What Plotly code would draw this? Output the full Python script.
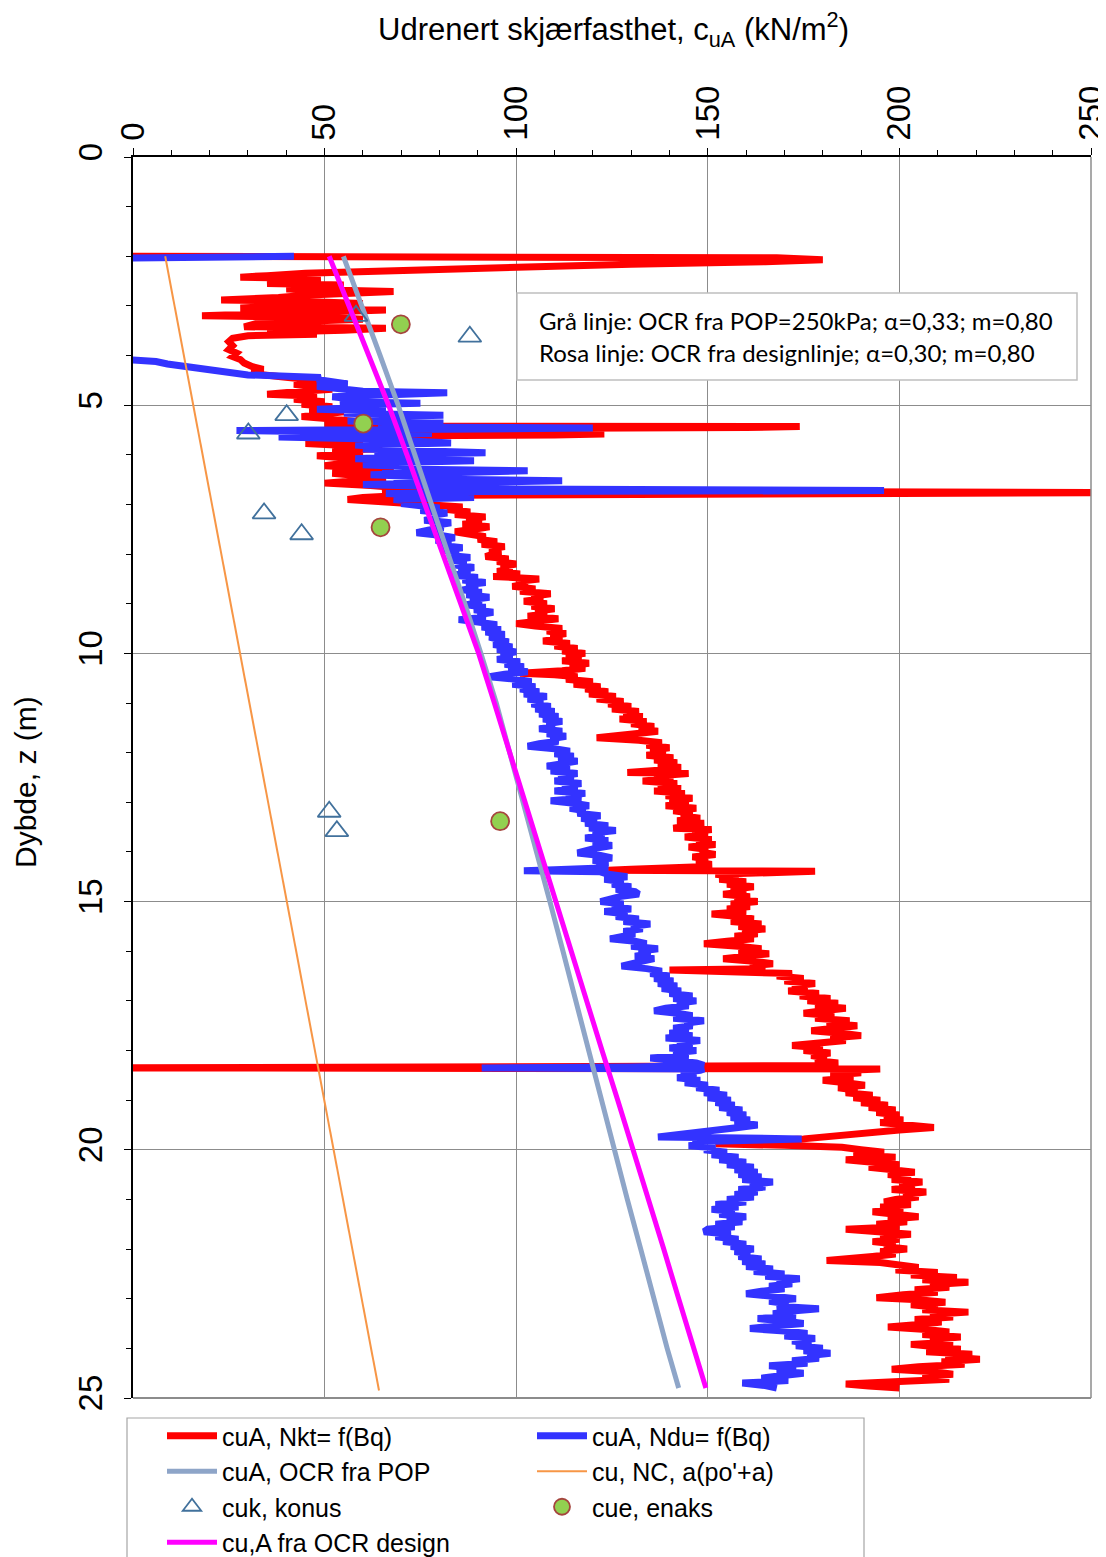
import plotly.graph_objects as go

# ---------------- data ----------------
# (depth m, cu kPa) pairs
red_profile = [
    (2.00, -3), (2.01, 60), (2.03, 168), (2.07, 180), (2.11, 165), (2.16, 130), (2.22, 95), (2.27, 75), (2.30, 52),
    (2.34, 45), (2.39, 35), (2.42, 28), (2.45, 49), (2.50, 42), (2.55, 35), (2.58, 55), (2.62, 48), (2.66, 40),
    (2.71, 68), (2.74, 50), (2.78, 46), (2.83, 38), (2.88, 23), (2.91, 45), (2.95, 60), (3.00, 40), (3.04, 28),
    (3.08, 66), (3.12, 48), (3.16, 30), (3.20, 18), (3.23, 50), (3.27, 60), (3.31, 45), (3.36, 32), (3.42, 29),
    (3.45, 66), (3.49, 55), (3.53, 35), (3.57, 48), (3.60, 30),
    (3.65, 26), (3.72, 25), (3.80, 26), (3.88, 25), (3.95, 27), (4.02, 26), (4.08, 28), (4.15, 29), (4.22, 31),
    (4.28, 34), (4.33, 31), (4.38, 33), (4.42, 38),
    (4.46, 45), (4.52, 50), (4.58, 42), (4.63, 47), (4.68, 52), (4.72, 44), (4.78, 35), (4.82, 48), (4.88, 42),
    (4.93, 50), (4.98, 44), (5.03, 52),
    (5.08, 46), (5.13, 55), (5.18, 48), (5.23, 44), (5.28, 52), (5.33, 58), (5.38, 50), (5.42, 60), (5.43, 174),
    (5.45, 160), (5.48, 70), (5.52, 56), (5.56, 62), (5.58, 123), (5.60, 110), (5.62, 60),
    (5.67, 52), (5.72, 60), (5.77, 45), (5.82, 58), (5.87, 65), (5.92, 52), (5.97, 60), (6.02, 48), (6.07, 56),
    (6.12, 64), (6.17, 55), (6.22, 50), (6.27, 62), (6.32, 68), (6.37, 52), (6.42, 60), (6.47, 66), (6.52, 58),
    (6.57, 50), (6.62, 62), (6.67, 70), (6.72, 65), (6.74, 190), (6.76, 265), (6.78, 200), (6.82, 70), (6.86, 60),
    (6.90, 56), (6.95, 66),
    (7.00, 80), (7.05, 86), (7.10, 82), (7.15, 88), (7.20, 84), (7.25, 92), (7.30, 87), (7.35, 91), (7.40, 86),
    (7.45, 93), (7.50, 89), (7.55, 84), (7.60, 88), (7.65, 92), (7.70, 90), (7.75, 95), (7.80, 91), (7.85, 97),
    (7.90, 93), (7.95, 96), (8.00, 94), (8.05, 92), (8.10, 98), (8.15, 95), (8.20, 100), (8.25, 96), (8.30, 99),
    (8.35, 95), (8.40, 101), (8.45, 94), (8.50, 106), (8.55, 100), (8.60, 103), (8.65, 99), (8.70, 105),
    (8.75, 101), (8.80, 109), (8.85, 104), (8.90, 107), (8.95, 102), (9.00, 108), (9.05, 104), (9.10, 110),
    (9.15, 105), (9.20, 108), (9.25, 103), (9.30, 111), (9.35, 106), (9.40, 100), (9.45, 105), (9.50, 112),
    (9.55, 108), (9.60, 113), (9.65, 109), (9.70, 112), (9.75, 107), (9.80, 114), (9.85, 110), (9.90, 116),
    (9.95, 112), (10.00, 118), (10.05, 113), (10.10, 117), (10.15, 112), (10.20, 119), (10.25, 114), (10.30, 118),
    (10.35, 112), (10.40, 101), (10.43, 110), (10.47, 116), (10.52, 113), (10.57, 120), (10.62, 115), (10.67, 122),
    (10.72, 118), (10.77, 124), (10.82, 119), (10.87, 126), (10.92, 121), (10.97, 128), (11.02, 124), (11.07, 130),
    (11.12, 125), (11.17, 132), (11.22, 128), (11.27, 133), (11.32, 127), (11.37, 134), (11.42, 130), (11.47, 136),
    (11.52, 132), (11.57, 137), (11.62, 131), (11.70, 121), (11.75, 132), (11.80, 138), (11.85, 134), (11.90, 140),
    (11.95, 135), (12.00, 139), (12.05, 134), (12.10, 141), (12.15, 136), (12.20, 142), (12.25, 137), (12.30, 143),
    (12.35, 138), (12.40, 129), (12.42, 145), (12.47, 136), (12.52, 141), (12.57, 133), (12.62, 142), (12.67, 137),
    (12.72, 143), (12.77, 136), (12.82, 144), (12.87, 139), (12.92, 146), (12.97, 140), (13.02, 145), (13.07, 139),
    (13.12, 147), (13.17, 141), (13.22, 146), (13.27, 143), (13.32, 148), (13.37, 142), (13.42, 149), (13.47, 145),
    (13.52, 141), (13.55, 151), (13.60, 146), (13.65, 150), (13.70, 144), (13.75, 151), (13.80, 147), (13.85, 152),
    (13.90, 145), (13.95, 150), (14.00, 148), (14.05, 152), (14.10, 146), (14.15, 150), (14.20, 147), (14.25, 151),
    (14.30, 148), (14.35, 130), (14.37, 124), (14.39, 178), (14.41, 160), (14.45, 152),
    (14.50, 158), (14.55, 153), (14.60, 160), (14.65, 155), (14.70, 162), (14.75, 156), (14.80, 160), (14.85, 154),
    (14.90, 161), (14.95, 157), (15.00, 163), (15.05, 156), (15.10, 161), (15.15, 155), (15.20, 160), (15.25, 151),
    (15.30, 158), (15.35, 162), (15.40, 156), (15.45, 164), (15.50, 158), (15.55, 165), (15.60, 159), (15.65, 163),
    (15.70, 157), (15.75, 162), (15.80, 155), (15.85, 149), (15.90, 158), (15.95, 164), (16.00, 158), (16.05, 166),
    (16.10, 160), (16.15, 154), (16.20, 162), (16.25, 167), (16.30, 161), (16.35, 165), (16.38, 140), (16.41, 165),
    (16.45, 172),
    (16.50, 168), (16.55, 175), (16.60, 170), (16.65, 178), (16.70, 172), (16.75, 176), (16.80, 171), (16.85, 179),
    (16.90, 174), (16.95, 182), (17.00, 176), (17.05, 184), (17.10, 178), (17.15, 186), (17.20, 180), (17.25, 175),
    (17.30, 183), (17.35, 178), (17.40, 187), (17.45, 181), (17.50, 189), (17.55, 183), (17.60, 177), (17.65, 185),
    (17.70, 190), (17.75, 182), (17.80, 186), (17.85, 179), (17.90, 172), (17.95, 180), (18.00, 175), (18.05, 182),
    (18.10, 177), (18.15, 181), (18.20, 178), (18.25, 184), (18.30, 180), (18.32, 120), (18.34, -5), (18.35, -5),
    (18.37, 195), (18.40, 185),
    (18.45, 190), (18.50, 182), (18.55, 188), (18.60, 180), (18.65, 186), (18.70, 191), (18.75, 184), (18.80, 189),
    (18.85, 186), (18.90, 193), (18.95, 188), (19.00, 195), (19.05, 190), (19.10, 197), (19.15, 192), (19.20, 199),
    (19.25, 194), (19.30, 200), (19.35, 196), (19.40, 201), (19.45, 195), (19.50, 203), (19.55, 209), (19.60, 200),
    (19.65, 193), (19.72, 185), (19.78, 175), (19.84, 158), (19.88, 152), (19.91, 170), (19.95, 185),
    (20.00, 190), (20.05, 196), (20.10, 188), (20.15, 199), (20.20, 186), (20.25, 195), (20.30, 200), (20.35, 192),
    (20.40, 198), (20.45, 204), (20.50, 197), (20.55, 203), (20.60, 198), (20.65, 206), (20.70, 200), (20.75, 204),
    (20.80, 198), (20.85, 207), (20.90, 201), (20.95, 205), (21.00, 199), (21.05, 196), (21.10, 203), (21.15, 195),
    (21.20, 201), (21.25, 193), (21.30, 199), (21.35, 205), (21.40, 197), (21.45, 202), (21.50, 194), (21.55, 200),
    (21.60, 186), (21.65, 197), (21.70, 203), (21.75, 195), (21.80, 200), (21.85, 193), (21.90, 199), (21.95, 196),
    (22.00, 202), (22.05, 195), (22.10, 199), (22.15, 193), (22.20, 182), (22.23, 181), (22.27, 195), (22.32, 201),
    (22.37, 205), (22.42, 199), (22.47, 210), (22.52, 203), (22.57, 215), (22.62, 206), (22.67, 218), (22.72, 208),
    (22.77, 213), (22.82, 204), (22.87, 210), (22.92, 201), (22.98, 194), (23.02, 205), (23.07, 212), (23.12, 203),
    (23.17, 210), (23.22, 206), (23.27, 218), (23.32, 208), (23.37, 214), (23.42, 204), (23.47, 211), (23.52, 205),
    (23.57, 197), (23.62, 207), (23.67, 213), (23.72, 206), (23.77, 216), (23.82, 208), (23.87, 214), (23.92, 203),
    (23.97, 210), (24.02, 216), (24.07, 207), (24.12, 219), (24.17, 212), (24.22, 221), (24.27, 211), (24.32, 217),
    (24.37, 205), (24.42, 198), (24.47, 209), (24.52, 214), (24.57, 206), (24.62, 213), (24.67, 200), (24.72, 186),
    (24.76, 192), (24.80, 200),
]

blue_profile = [
    (2.00, 42), (2.02, 20), (2.04, -10), (4.04, -10), (4.08, 0), (4.12, 6), (4.17, 9), (4.25, 17), (4.32, 24),
    (4.39, 30), (4.42, 42), (4.44, 49),
    (4.48, 48), (4.53, 52), (4.57, 56), (4.62, 48), (4.67, 55), (4.72, 60), (4.75, 82), (4.78, 62), (4.83, 52),
    (4.88, 58), (4.93, 54), (4.96, 75), (4.99, 58),
    (5.04, 62), (5.08, 48), (5.12, 66), (5.16, 55), (5.20, 81), (5.24, 60), (5.28, 70), (5.32, 56), (5.36, 81),
    (5.40, 64), (5.44, 70), (5.46, 120), (5.48, 90), (5.51, 27), (5.54, 45), (5.57, 78), (5.60, 55), (5.64, 38),
    (5.68, 62), (5.72, 70), (5.76, 83), (5.80, 58), (5.84, 66), (5.88, 60), (5.92, 75), (5.96, 92), (6.00, 63),
    (6.04, 70), (6.08, 58), (6.12, 89), (6.16, 66), (6.20, 60), (6.24, 72), (6.28, 65), (6.32, 103), (6.36, 70),
    (6.40, 62), (6.44, 75), (6.48, 68), (6.52, 112), (6.56, 72), (6.60, 60), (6.64, 78), (6.68, 70), (6.72, 196),
    (6.74, 90), (6.78, 66), (6.82, 75), (6.86, 89), (6.90, 68), (6.94, 74), (6.98, 70),
    (7.02, 76), (7.07, 80), (7.12, 75), (7.17, 82), (7.22, 78), (7.27, 80), (7.32, 76), (7.37, 83), (7.42, 79),
    (7.47, 81), (7.52, 77), (7.57, 74), (7.62, 80), (7.67, 84), (7.72, 79), (7.77, 83), (7.82, 80), (7.87, 86),
    (7.92, 81), (7.97, 85), (8.02, 82), (8.07, 88), (8.12, 83), (8.17, 87), (8.22, 84), (8.27, 89), (8.32, 85),
    (8.37, 88), (8.42, 83), (8.47, 90), (8.52, 86), (8.57, 92), (8.62, 87), (8.67, 90), (8.72, 86), (8.77, 91),
    (8.82, 87), (8.87, 93), (8.92, 88), (8.97, 91), (9.02, 87), (9.07, 92), (9.12, 89), (9.17, 94), (9.22, 90),
    (9.27, 92), (9.32, 85), (9.37, 92), (9.42, 95), (9.47, 91), (9.52, 96), (9.57, 92), (9.62, 97), (9.67, 93),
    (9.72, 96), (9.77, 98), (9.82, 94), (9.87, 99), (9.92, 95), (9.97, 100), (10.02, 96), (10.07, 99), (10.12, 95),
    (10.17, 101), (10.22, 97), (10.27, 102), (10.32, 98), (10.37, 103), (10.42, 97), (10.47, 93), (10.52, 100),
    (10.57, 104), (10.62, 99), (10.67, 105), (10.72, 101), (10.77, 106), (10.82, 102), (10.87, 108), (10.92, 103),
    (10.97, 107), (11.02, 104), (11.07, 109), (11.12, 105), (11.17, 110), (11.22, 106), (11.27, 111), (11.32, 107),
    (11.37, 112), (11.42, 108), (11.47, 110), (11.52, 106), (11.57, 112), (11.62, 108), (11.67, 113), (11.72, 109),
    (11.77, 111), (11.82, 106), (11.87, 103), (11.92, 110), (11.97, 114), (12.02, 110), (12.07, 115), (12.12, 111),
    (12.17, 116), (12.22, 112),
    (12.27, 108), (12.32, 114), (12.37, 109), (12.42, 116), (12.47, 111), (12.52, 115), (12.57, 110), (12.62, 117),
    (12.67, 112), (12.72, 116), (12.77, 110), (12.82, 118), (12.87, 113), (12.92, 117), (12.97, 109), (13.02, 115),
    (13.07, 119), (13.12, 114), (13.17, 118), (13.22, 116), (13.27, 122), (13.32, 117), (13.37, 121), (13.42, 118),
    (13.47, 124), (13.52, 119), (13.57, 126), (13.62, 120), (13.67, 123), (13.72, 118), (13.77, 124), (13.82, 120),
    (13.87, 125), (13.92, 121), (13.97, 118), (14.02, 116), (14.07, 122), (14.12, 125), (14.17, 120), (14.22, 124),
    (14.27, 121), (14.32, 124), (14.36, 110), (14.38, 102), (14.40, 122),
    (14.45, 124), (14.50, 129), (14.55, 123), (14.60, 128), (14.65, 125), (14.70, 130), (14.75, 126), (14.80, 131),
    (14.85, 132), (14.90, 127), (14.95, 124), (15.00, 122), (15.05, 128), (15.10, 125), (15.15, 130), (15.20, 123),
    (15.25, 129), (15.30, 126), (15.35, 132), (15.40, 128), (15.45, 135), (15.50, 130), (15.55, 133), (15.60, 128),
    (15.65, 131), (15.70, 126), (15.75, 124.5), (15.80, 131), (15.85, 134), (15.90, 130), (15.95, 137), (16.00, 132),
    (16.05, 135), (16.10, 131), (16.15, 136), (16.20, 133), (16.25, 130), (16.30, 127.5), (16.35, 134), (16.40, 138),
    (16.45, 135),
    (16.50, 140), (16.55, 136), (16.60, 141), (16.65, 137), (16.70, 142), (16.75, 138), (16.80, 143), (16.85, 140),
    (16.90, 146), (16.95, 141), (17.00, 147), (17.05, 142), (17.10, 145), (17.15, 139), (17.20, 136), (17.25, 142),
    (17.30, 146), (17.35, 141), (17.40, 149), (17.45, 144), (17.50, 146), (17.55, 141), (17.60, 145), (17.65, 140),
    (17.70, 146), (17.75, 139), (17.80, 148), (17.85, 142), (17.90, 146), (17.95, 140), (18.00, 147), (18.05, 141),
    (18.10, 145), (18.15, 135), (18.20, 143), (18.25, 147), (18.30, 149), (18.33, 130), (18.35, 91), (18.37, 149),
    (18.40, 148), (18.45, 143), (18.50, 147), (18.55, 142), (18.60, 148), (18.65, 144), (18.70, 150), (18.75, 147),
    (18.80, 153), (18.85, 149), (18.90, 155), (18.95, 150), (19.00, 156), (19.05, 152), (19.10, 157), (19.15, 153),
    (19.20, 159), (19.25, 155), (19.30, 160), (19.35, 156), (19.40, 161), (19.45, 157), (19.50, 163), (19.55, 158),
    (19.60, 152), (19.65, 148), (19.70, 140), (19.74, 137), (19.78, 174.5), (19.81, 160), (19.84, 146), (19.88, 150),
    (19.92, 145), (19.96, 152),
    (20.00, 149), (20.05, 155), (20.10, 151), (20.15, 158), (20.20, 153), (20.25, 160), (20.30, 155), (20.35, 162),
    (20.40, 157), (20.45, 163), (20.50, 158), (20.55, 164), (20.60, 159), (20.65, 167), (20.70, 161), (20.75, 165),
    (20.80, 158), (20.85, 163), (20.90, 157), (20.95, 162), (21.00, 155), (21.05, 160), (21.10, 152), (21.15, 158),
    (21.20, 151), (21.25, 157), (21.30, 153), (21.35, 160), (21.40, 155), (21.45, 159), (21.50, 152), (21.55, 157),
    (21.60, 150), (21.65, 149), (21.70, 156), (21.75, 152), (21.80, 158), (21.85, 154), (21.90, 160), (21.95, 156),
    (22.00, 162), (22.05, 157), (22.10, 161), (22.15, 158), (22.20, 164), (22.25, 159), (22.30, 165), (22.35, 160),
    (22.40, 167), (22.45, 162), (22.50, 170), (22.55, 165), (22.60, 174), (22.65, 168), (22.70, 172), (22.75, 166),
    (22.80, 170), (22.85, 164), (22.90, 160), (22.95, 167), (23.00, 173), (23.05, 166), (23.10, 171), (23.15, 168),
    (23.20, 179), (23.25, 172), (23.30, 167), (23.35, 173), (23.40, 163), (23.45, 170), (23.50, 175), (23.55, 167),
    (23.60, 161), (23.65, 170), (23.70, 176), (23.75, 170), (23.80, 178), (23.85, 172), (23.90, 177), (23.95, 173),
    (24.00, 180), (24.05, 175), (24.10, 182), (24.15, 176), (24.20, 179), (24.25, 172), (24.30, 176), (24.35, 166),
    (24.40, 173), (24.45, 168), (24.50, 175), (24.55, 169), (24.60, 164), (24.65, 171), (24.70, 159), (24.75, 165),
    (24.80, 168),
]

line_depth = [2.0, 3.0, 4.0, 5.0, 6.0, 7.0, 8.0, 9.0, 10.0, 11.0, 12.0, 13.0, 14.0, 15.0, 16.0, 17.0,
              18.0, 19.0, 20.0, 21.0, 22.0, 23.0, 24.0, 24.8]
cu_ocr_pop = [54.9, 59.8, 64.5, 69.2, 73.6, 78.0, 82.3, 86.6, 90.8, 94.8, 98.3, 101.9, 105.4, 108.8, 112.2,
              115.5, 118.9, 122.2, 125.6, 129.0, 132.5, 135.9, 139.4, 142.4]
cu_ocr_design = [51.2, 56.4, 61.5, 66.7, 71.5, 76.2, 80.9, 85.6, 90.2, 94.3, 98.3, 102.3, 106.2, 110.1, 114.2,
                 118.3, 122.4, 126.5, 130.6, 134.6, 138.5, 142.4, 146.3, 149.5]

nc_depth = [2.0, 24.85]
cu_nc = [8.4, 64.2]

cuk_depth = [3.2, 3.62, 5.2, 5.57, 7.18, 7.6, 13.19, 13.58]
cuk_val = [58.2, 87.9, 40.1, 30.1, 34.2, 44.0, 51.2, 53.2]

cue_depth = [3.37, 5.37, 7.46, 13.38]
cue_val = [69.9, 60.1, 64.6, 95.8]

x_ticks = [0, 50, 100, 150, 200, 250]
y_ticks = [0, 5, 10, 15, 20, 25]

# ---------------- figure ----------------
FONT = "Liberation Sans, Arial, sans-serif"
# the page body adds an 8 px offset; the figure is sized so the plot lands where the reference has it
PX0, PY0, PW, PH = 133, 157, 958, 1241   # plot area in window pixels


def px(x):
    return (x - PX0) / PW


def py(y):
    return (PY0 + PH - y) / PH


fig = go.Figure()
fig.add_trace(go.Scatter(x=[p[1] for p in red_profile], y=[p[0] for p in red_profile], mode="lines",
                         name="cuA, Nkt= f(Bq)", line=dict(color="#FF0000", width=7)))
fig.add_trace(go.Scatter(x=[p[1] for p in blue_profile], y=[p[0] for p in blue_profile], mode="lines",
                         name="cuA, Ndu= f(Bq)", line=dict(color="#3333FF", width=7)))
fig.add_trace(go.Scatter(x=cu_ocr_pop, y=line_depth, mode="lines", name="cuA, OCR fra POP",
                         line=dict(color="#8EA5C8", width=5)))
fig.add_trace(go.Scatter(x=cu_nc, y=nc_depth, mode="lines", name="cu, NC, a(po'+a)",
                         line=dict(color="#F79646", width=2)))
fig.add_trace(go.Scatter(x=cuk_val, y=cuk_depth, mode="markers", name="cuk, konus",
                         marker=dict(symbol="triangle-up-open", size=20, color="#41719C",
                                     line=dict(width=1.8, color="#41719C"))))
fig.add_trace(go.Scatter(x=cue_val, y=cue_depth, mode="markers", name="cue, enaks",
                         marker=dict(symbol="circle", size=18, color="#92D050",
                                     line=dict(width=1.8, color="#A5453E"))))
fig.add_trace(go.Scatter(x=cu_ocr_design, y=line_depth, mode="lines", name="cu,A fra OCR design",
                         line=dict(color="#FF00FF", width=5)))

fig.update_layout(
    width=1098, height=1549,
    margin=dict(l=125, r=15, t=149, b=159, autoexpand=False),
    paper_bgcolor="white", plot_bgcolor="white",
    font=dict(family=FONT, color="black"),
    showlegend=True,
    legend=dict(orientation="h", x=px(162), y=py(1413), xanchor="left", yanchor="top",
                entrywidth=305, entrywidthmode="pixels", itemwidth=50, traceorder="normal",
                font=dict(family=FONT, size=25, color="black"),
                borderwidth=0, bgcolor="rgba(0,0,0,0)", tracegroupgap=0),
    xaxis=dict(side="top", range=[0, 250], tickvals=x_ticks, tickangle=-90,
               tickfont=dict(family=FONT, size=33), ticks="outside", ticklen=7, tickcolor="black",
               showline=True, linecolor="black", linewidth=1.5, zeroline=False,
               showgrid=True, gridcolor="#8C8C8C", gridwidth=1, ticklabelstandoff=1,
               ticklabeloverflow="allow",
               minor=dict(dtick=10, ticks="outside", ticklen=5, tickcolor="black", showgrid=False)),
    yaxis=dict(range=[25, 0], tickvals=y_ticks, tickangle=-90,
               tickfont=dict(family=FONT, size=33), ticks="outside", ticklen=7, tickcolor="black",
               showline=True, linecolor="black", linewidth=1.5, zeroline=False,
               showgrid=True, gridcolor="#8C8C8C", gridwidth=1, ticklabelstandoff=9,
               ticklabeloverflow="allow",
               minor=dict(dtick=1, ticks="outside", ticklen=5, tickcolor="black", showgrid=False)),
)

# right and bottom frame lines
fig.add_shape(type="line", xref="paper", yref="paper", x0=1, x1=1, y0=0, y1=1,
              line=dict(color="#8C8C8C", width=1.5))
fig.add_shape(type="line", xref="paper", yref="paper", x0=0, x1=1, y0=0, y1=0,
              line=dict(color="#8C8C8C", width=2))

# legend frame
fig.add_shape(type="rect", xref="paper", yref="paper", x0=px(127), x1=px(864), y0=py(1575), y1=py(1418),
              line=dict(color="#A6A6A6", width=1.2), fillcolor="rgba(0,0,0,0)")

# axis titles
fig.add_annotation(text="Udrenert skjærfasthet, c<sub>uA</sub> (kN/m<sup>2</sup>)", xref="paper", yref="paper",
                   x=px(613), y=py(29), showarrow=False,
                   font=dict(family=FONT, size=31), xanchor="center", yanchor="middle")
fig.add_annotation(text="Dybde, z (m)", xref="paper", yref="paper", textangle=-90,
                   x=px(25), y=py(782), showarrow=False,
                   font=dict(family=FONT, size=30), xanchor="center", yanchor="middle")

# info box
fig.add_shape(type="rect", xref="paper", yref="paper", x0=px(517), x1=px(1077), y0=py(380), y1=py(293),
              line=dict(color="#BFBFBF", width=1.5), fillcolor="white", layer="above")
fig.add_annotation(text="Grå linje: OCR fra POP=250kPa; α=0,33; m=0,80", xref="paper", yref="paper",
                   x=px(537), y=py(320), xanchor="left", yanchor="middle",
                   showarrow=False, font=dict(family="Lato, sans-serif", size=24))
fig.add_annotation(text="Rosa linje: OCR fra designlinje; α=0,30; m=0,80", xref="paper", yref="paper",
                   x=px(537), y=py(353), xanchor="left", yanchor="middle",
                   showarrow=False, font=dict(family="Lato, sans-serif", size=24))

fig.write_html("out.html")
